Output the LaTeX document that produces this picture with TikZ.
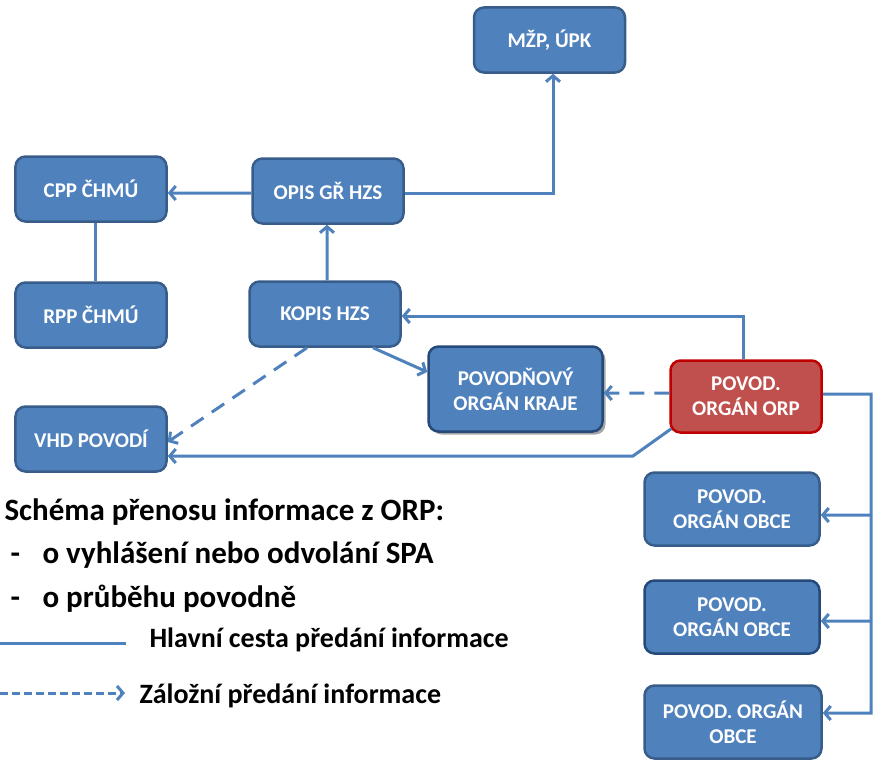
\documentclass[tikz,border=0pt]{standalone}
\usepackage{fontspec}
\setmainfont{Carlito}
\usetikzlibrary{arrows.meta,shadows}
\definecolor{bfill}{HTML}{4F81BD}
\definecolor{bdraw}{HTML}{385D8A}
\definecolor{bdark}{HTML}{254A7A}
\definecolor{rfill}{HTML}{C0504D}
\definecolor{rdraw}{HTML}{C00000}
\begin{document}
\begin{tikzpicture}[x=1bp,y=-1bp,
  box/.style={draw=bdraw, fill=bfill, line width=2.5bp, rounded corners=10bp,
    text=white, font=\bfseries\fontsize{21bp}{25bp}\selectfont, align=center, inner sep=0pt},
  conn/.style={draw=bfill, line width=3bp},
  arr/.style={conn, -{Straight Barb[length=6bp,width=14bp]}},
  dsh/.style={arr, dash pattern=on 15bp off 10bp},
  legend/.style={anchor=base west, font=\bfseries\fontsize{31bp}{36bp}\selectfont},
  leglab/.style={anchor=base west, font=\bfseries\fontsize{28bp}{32bp}\selectfont}]
\useasboundingbox (0,0) rectangle (887,776);
% nodes
\node[box, minimum width=151bp, minimum height=65bp] (mzp) at (549.5,40) {MŽP, ÚPK};
\node[box, minimum width=151bp, minimum height=65bp] (cpp) at (91,189) {CPP ČHMÚ};
\node[box, minimum width=151bp, minimum height=65bp] (opis) at (328,191) {OPIS GŘ HZS};
\node[box, minimum width=151bp, minimum height=65bp] (rpp) at (91,315) {RPP ČHMÚ};
\node[box, minimum width=151bp, minimum height=65bp] (kopis) at (325,314) {KOPIS HZS};
\node[box, minimum width=151bp, minimum height=65bp] (vhd) at (91,439) {VHD POVODÍ};
\node[box, draw=bdark, minimum width=174bp, minimum height=85bp,
  drop shadow={shadow xshift=3bp, shadow yshift=-3bp, opacity=0.35, fill=black}] (kraje) at (515.5,389) {POVODŇOVÝ\\ORGÁN KRAJE};
\node[box, draw=rdraw, fill=rfill, minimum width=151bp, minimum height=72bp] (orp) at (746,396.5) {POVOD.\\ORGÁN ORP};
\node[box, minimum width=175bp, minimum height=73bp] (obce1) at (732,509) {POVOD.\\ORGÁN OBCE};
\node[box, draw=bdark, minimum width=175bp, minimum height=73bp] (obce2) at (732,617) {POVOD.\\ORGÁN OBCE};
\node[box, minimum width=177bp, minimum height=73bp] (obce3) at (733,722) {POVOD. ORGÁN\\OBCE};
% connectors
\draw[arr] ([yshift=-2bp]opis.east) -| ([xshift=3.5bp]mzp.south);
\draw[arr] ([yshift=-2bp]opis.west) -- ([yshift=-4bp]cpp.east);
\draw[conn] ([xshift=4bp]cpp.south) -- ([xshift=4bp]rpp.north);
\draw[arr] ([xshift=2bp]kopis.north) -- ([xshift=-1bp]opis.south);
\draw[arr] ([xshift=48bp]kopis.south) -- ([yshift=17bp]kraje.west);
\draw[dsh] ([xshift=-18bp]kopis.south) -- ([yshift=-3bp]vhd.east);
\draw[arr] ([xshift=-3bp]orp.north) |- ([yshift=-2bp]kopis.east);
\draw[dsh] ([yshift=3.5bp]orp.west) -- ([yshift=-4bp]kraje.east);
\coordinate (bend) at (633,456);
\draw[arr] ([xshift=2bp,yshift=5bp]orp.south west) -- (bend) -- ([yshift=-17bp]vhd.east);
\coordinate (trunk) at (871,713);
\draw[arr] ([yshift=2.5bp]orp.east) -| (trunk) -- ([yshift=9bp]obce3.east);
\draw[arr] (trunk |- obce1.east) ++(0,6) -- ([yshift=-6bp]obce1.east);
\draw[arr] (trunk |- obce2.east) ++(0,4) -- ([yshift=-4bp]obce2.east);
% legend
\node[legend] (title) at (1,520) {Schéma přenosu informace z ORP:};
\node[legend] (d1) at (7,563) {-};
\node[legend] (t1) at (39,563) {o vyhlášení nebo odvolání SPA};
\node[legend] (d2) at (7,607) {-};
\node[legend] (t2) at (39,607) {o průběhu povodně};
\coordinate (la) at (0,643);
\coordinate (lb) at (126,643);
\draw[conn] (la) -- (lb);
\node[leglab] (hl) at (146,647) {Hlavní cesta předání informace};
\coordinate (lc) at (0,693);
\coordinate (ld) at (125,693);
\draw[arr, dash pattern=on 8bp off 4bp] (lc) -- (ld);
\node[leglab] (zl) at (136,703) {Záložní předání informace};
\end{tikzpicture}
\end{document}
